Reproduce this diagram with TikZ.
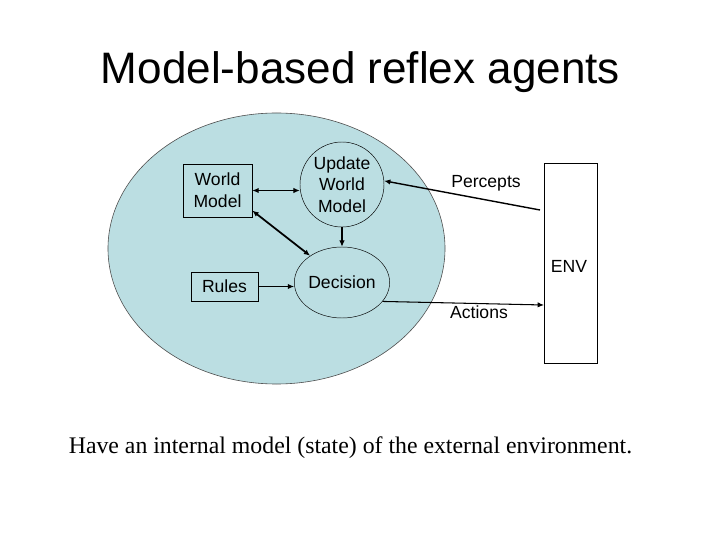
\documentclass[tikz,border=0pt]{standalone}
\usepackage{fontspec}
\setmainfont{Liberation Sans}
\newfontfamily\captionfont{Liberation Serif}
\usepackage{tikz}
\usetikzlibrary{positioning,arrows.meta,shapes.geometric}
\definecolor{AgentBlue}{HTML}{BBDEE2}

\begin{document}
\begin{tikzpicture}[
  x=0.03cm, y=-0.03cm,
  >={Latex[length=1.9mm,width=1.6mm]},
  lbl/.style={font=\fontsize{15}{18.5}\selectfont,align=center,inner sep=0pt},
  boxnode/.style={lbl,draw,line width=0.5pt},
  roundnode/.style={lbl,draw,line width=0.4pt,ellipse},
  link/.style={line width=0.9pt},
  thicklink/.style={line width=1.5pt}
]
\useasboundingbox (0,0) rectangle (720,540);
\fill[white] (0,0) rectangle (720,540);

% Title
\node[font=\fontsize{37.6}{40}\selectfont,anchor=base] (title) at (360.5,84) {Model-based reflex agents};

% Agent
\node[ellipse,draw=black!70,fill=AgentBlue,line width=0.5pt,
      minimum width=10.11cm,minimum height=8.13cm] (agent) at (276.5,248.5) {};

\node[boxnode,minimum width=2.07cm,minimum height=1.59cm] (worldmodel) at (217.5,190.5) {World\\Model};
\node[boxnode,minimum width=2.01cm,minimum height=0.87cm] (rules) at (224.5,286.5) {Rules};
\node[roundnode,minimum width=2.52cm,minimum height=2.55cm] (update) at (342,184.5) {Update\\World\\Model};
\node[roundnode,minimum width=2.52cm,minimum height=2.13cm] (decision) at (342,282.5) {Decision};

% Environment
\node[boxnode,minimum width=1.59cm,minimum height=6cm] (env) at (570.5,263) {};
\node[lbl] (envlabel) at (569,266) {ENV};

% Connections inside the agent
\draw[link,<->] (worldmodel.east) -- (worldmodel.east -| update.west);
\draw[thicklink,<->] (worldmodel.-30) -- (decision.140);
\draw[link,->] (update.south) -- (decision.north);
\draw[link,->] (rules.east) -- (rules.east -| decision.west);

% Percepts and actions
\coordinate (percin) at (540,210);
\coordinate (actout) at (544,305);
\draw[thicklink,->,line width=1.2pt] (percin) -- (update.5);
\draw[link,->] (decision.-25) -- (actout);
\node[lbl] (percepts) at (486,183) {Percepts};
\node[lbl] (actions) at (479,312) {Actions};

% Caption
\node[font=\captionfont\fontsize{20.3}{24}\selectfont,anchor=base] (caption) at (350.5,453)
  {Have an internal model (state) of the external environment.};

\end{tikzpicture}
\end{document}
